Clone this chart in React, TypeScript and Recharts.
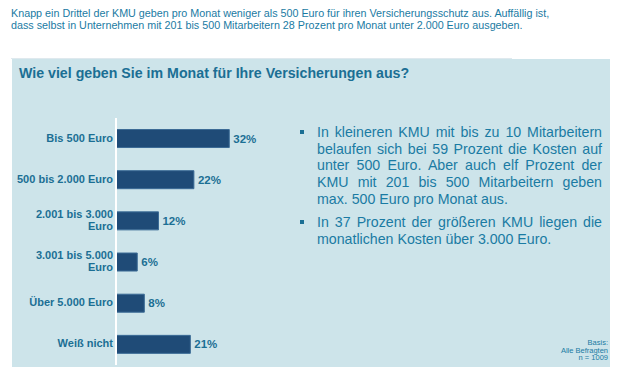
import React from 'react'
import { BarChart, Bar, XAxis, YAxis, LabelList } from 'recharts'

const categories = ['Bis 500 Euro', '500 bis 2.000 Euro', '2.001 bis 3.000 Euro', '3.001 bis 5.000 Euro', 'Über 5.000 Euro', 'Weiß nicht']
const values = [32, 22, 12, 6, 8, 21]

const data = categories.map((name, i) => ({ name, value: values[i] }))

const FONT = '"Liberation Sans", Arial, sans-serif'
const TEAL = '#1b6f94'
const TEXT = '#1a7ba3'
const BAR = '#1f4b77'

// long labels break before the last word, like the original
const CategoryTick = (props: any) => {
  const { x, y, payload } = props
  const label: string = payload.value
  let lines = [label]
  if (label.length > 18) {
    const cut = label.lastIndexOf(' ')
    lines = [label.slice(0, cut), label.slice(cut + 1)]
  }
  const lh = 12.7
  const startY = y - ((lines.length - 1) * lh) / 2 - 1
  return (
    <text x={x} y={startY} textAnchor="end" fill={TEAL} fontSize={11} fontWeight="bold" fontFamily={FONT}>
      {lines.map((l, i) => (
        <tspan key={i} x={x} y={startY + i * lh} dy="0.36em">{l}</tspan>
      ))}
    </text>
  )
}

export default function App() {
  return (
    <div style={{ position: 'absolute', left: 0, top: 0, width: 624, height: 383, background: '#fff', fontFamily: FONT, overflow: 'hidden' }}>
      <div style={{ position: 'absolute', left: 11, top: 7, fontSize: 10.75, lineHeight: '12px', color: TEXT, whiteSpace: 'nowrap' }}>
        Knapp ein Drittel der KMU geben pro Monat weniger als 500 Euro für ihren Versicherungsschutz aus. Auffällig ist,<br />
        dass selbst in Unternehmen mit 201 bis 500 Mitarbeitern 28 Prozent pro Monat unter 2.000 Euro ausgeben.
      </div>
      <div style={{ position: 'absolute', left: 11, top: 58, width: 501, height: 1, background: '#dfe9ee' }} />
      <div style={{ position: 'absolute', left: 12, top: 59, width: 598, height: 308, background: '#cde4ea' }} />
      <div style={{ position: 'absolute', left: 19, top: 65, fontSize: 14.2, fontWeight: 'bold', color: TEAL, whiteSpace: 'nowrap' }}>
        Wie viel geben Sie im Monat für Ihre Versicherungen aus?
      </div>

      <div style={{ position: 'absolute', left: 0, top: 0 }}>
        <BarChart
          width={470}
          height={383}
          data={data}
          layout="vertical"
          barCategoryGap="28%"
          margin={{ top: 118, right: 0, bottom: 18, left: 0 }}
        >
          <XAxis type="number" domain={[0, 100]} hide />
          <YAxis
            type="category"
            dataKey="name"
            width={116}
            axisLine={{ stroke: '#ffffff', strokeWidth: 2 }}
            tickLine={false}
            tickSize={0}
            tickMargin={3}
            tick={<CategoryTick />}
            interval={0}
          />
          <Bar dataKey="value" fill={BAR} stroke="#3b6b96" strokeWidth={1} isAnimationActive={false}>
            <LabelList
              dataKey="value"
              position="right"
              offset={4}
              formatter={(v: any) => `${v}%`}
              fill={TEAL}
              fontSize={11.5}
              fontWeight="bold"
              fontFamily={FONT}
            />
          </Bar>
        </BarChart>
      </div>

      <div style={{ position: 'absolute', left: 300, top: 124, width: 302, fontSize: 14.2, lineHeight: '16.7px', color: TEXT }}>
        {[
          'In kleineren KMU mit bis zu 10 Mitarbeitern belaufen sich bei 59 Prozent die Kosten auf unter 500 Euro. Aber auch elf Prozent der KMU mit 201 bis 500 Mitarbeitern geben max. 500 Euro pro Monat aus.',
          'In 37 Prozent der größeren KMU liegen die monatlichen Kosten über 3.000 Euro.',
        ].map((t, i) => (
          <div key={i} style={{ position: 'relative', paddingLeft: 17, marginBottom: 6.6, textAlign: 'justify' }}>
            <span style={{ position: 'absolute', left: 0, top: 6, width: 4, height: 4, background: TEAL }} />
            {t}
          </div>
        ))}
      </div>

      <div style={{ position: 'absolute', right: 16, top: 339, fontSize: 7.5, lineHeight: '7.6px', color: TEXT, textAlign: 'right' }}>
        Basis:<br />Alle Befragten<br />n = 1009
      </div>
    </div>
  )
}
